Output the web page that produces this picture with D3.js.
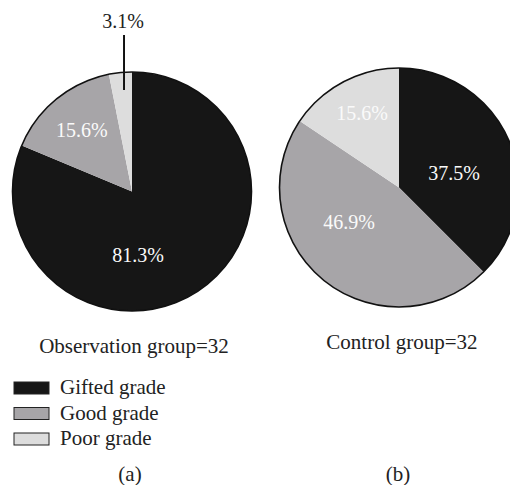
<!DOCTYPE html>
<html>
<head>
<meta charset="utf-8">
<script src="https://cdn.jsdelivr.net/npm/d3@7"></script>
<style>
  body { margin: 0; background: #fff; }
  svg { display: block; }
</style>
</head>
<body>
<svg id="chart"></svg>
<script>
// grades, in drawing order (clockwise from 12 o'clock)
const grades = ["Gifted grade", "Good grade", "Poor grade"]
const gradeColors = ["#161616", "#a7a5a8", "#dddddd"]

// percentages per group
const observationValues = [81.3, 15.6, 3.1]
const controlValues = [37.5, 46.9, 15.6]

const groupTitles = ["Observation group=32", "Control group=32"]
const panelLabels = ["(a)", "(b)"]

const config = {
    width: 510,
    height: 485,
    radius: 119.5,
    font: "'Liberation Serif', 'DejaVu Serif', serif",
    labelSize: 20,
    textSize: 21
}

const svg = d3.select("#chart")
    .attr("width", config.width)
    .attr("height", config.height)

const pie = d3.pie().sort(null).value(d => d)
const arc = d3.arc().innerRadius(0).outerRadius(config.radius)
const color = d3.scaleOrdinal().domain(d3.range(grades.length)).range(gradeColors)

const polar = function (deg, r) {
    const a = deg * Math.PI / 180
    return { x: Math.sin(a) * r, y: -Math.cos(a) * r }
}

// labelPos: [angle in degrees clockwise from top, fraction of radius], null = no inside label
const drawPie = function (values, cx, cy, labelPos) {
    const g = svg.append("g").attr("transform", `translate(${cx},${cy})`)
    const arcs = pie(values)
    g.selectAll("path.slice")
        .data(arcs)
        .join("path")
        .attr("class", "slice")
        .attr("d", arc)
        .style("fill", (d, i) => color(i))

    g.append("circle")
        .attr("r", config.radius)
        .style("fill", "none")
        .style("stroke", "#111")
        .style("stroke-width", 1.6)

    arcs.forEach((d, i) => {
        const lp = labelPos[i]
        if (!lp) return
        const p = polar(lp[0], lp[1] * config.radius)
        g.append("text")
            .text(d.value.toFixed(1) + "%")
            .attr("x", p.x)
            .attr("y", p.y)
            .attr("dy", "0.35em")
            .attr("text-anchor", "middle")
            .style("fill", "#fafafa")
            .style("font-family", config.font)
            .style("font-size", config.labelSize + "px")
    })
    return { g, arcs }
}

// (a) observation group
const a = drawPie(observationValues, 132, 191.5, [[174.6, 0.534], [320.8, 0.664], null])
// the small slice gets a leader line and a label above the pie
{
    const d = a.arcs[2]
    const mid = (d.startAngle + d.endAngle) / 2 * 180 / Math.PI
    const x = polar(mid, config.radius * 0.686).x
    a.g.append("line")
        .attr("x1", x).attr("y1", -config.radius + 18)
        .attr("x2", x).attr("y2", -config.radius - 37)
        .style("stroke", "#111")
        .style("stroke-width", 2)
    a.g.append("text")
        .text(d.value.toFixed(1) + "%")
        .attr("x", x - 1)
        .attr("y", -config.radius - 44)
        .attr("text-anchor", "middle")
        .style("fill", "#222")
        .style("font-family", config.font)
        .style("font-size", config.labelSize + "px")
}

// (b) control group
drawPie(controlValues, 399, 187.5, [[75.2, 0.476], [235.4, 0.508], [333.6, 0.696]])

// group titles
const titleX = [134, 402]
const titleY = [353, 349]
groupTitles.forEach((t, i) => {
    svg.append("text")
        .text(t)
        .attr("x", titleX[i])
        .attr("y", titleY[i])
        .attr("text-anchor", "middle")
        .style("fill", "#222")
        .style("font-family", config.font)
        .style("font-size", config.textSize + "px")
})

// legend
const legend = svg.append("g").attr("transform", "translate(14,382)")
grades.forEach((gname, i) => {
    const row = legend.append("g").attr("transform", `translate(0,${i * 25.5})`)
    row.append("rect")
        .attr("width", 35).attr("height", 12)
        .style("fill", color(i))
        .style("stroke", "#222")
        .style("stroke-width", 1)
    row.append("text")
        .text(gname)
        .attr("x", 46)
        .attr("y", 12)
        .style("fill", "#222")
        .style("font-family", config.font)
        .style("font-size", config.textSize + "px")
})

// panel labels
const panelX = [130, 398]
panelLabels.forEach((t, i) => {
    svg.append("text")
        .text(t)
        .attr("x", panelX[i])
        .attr("y", 481)
        .attr("text-anchor", "middle")
        .style("fill", "#222")
        .style("font-family", config.font)
        .style("font-size", config.textSize + "px")
})
</script>
</body>
</html>
